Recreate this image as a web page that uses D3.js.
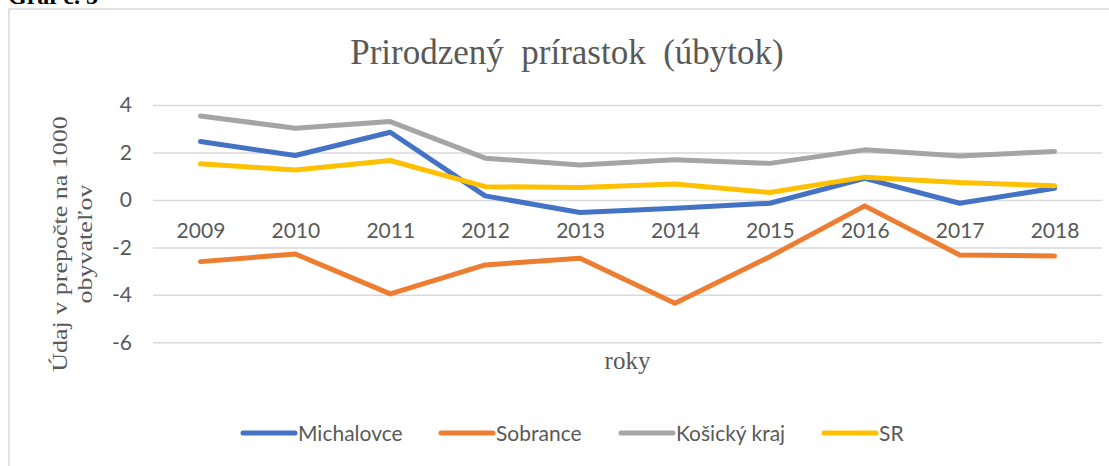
<!DOCTYPE html>
<html><head><meta charset="utf-8">
<script src="https://cdn.jsdelivr.net/npm/d3@7"></script>
<style>
html,body{margin:0;padding:0;background:#fff;}
svg{display:block;}
</style></head>
<body>
<svg id="chart" width="1109" height="466"></svg>
<script>
const years = ["2009","2010","2011","2012","2013","2014","2015","2016","2017","2018"];
const michalovce = [2.46, 1.87, 2.85, 0.17, -0.53, -0.35, -0.14, 0.91, -0.14, 0.49];
const sobrance = [-2.60, -2.28, -3.96, -2.74, -2.46, -4.35, -2.39, -0.25, -2.32, -2.36];
const kosickyKraj = [3.54, 3.02, 3.30, 1.76, 1.47, 1.69, 1.54, 2.11, 1.85, 2.04];
const sr = [1.52, 1.26, 1.66, 0.56, 0.52, 0.67, 0.31, 0.96, 0.73, 0.60];
const seriesNames = ["Michalovce", "Sobrance", "Košický kraj", "SR"];
const yTicks = [4, 2, 0, -2, -4, -6];
const titleText = "Prirodzený  prírastok  (úbytok)";
const yLabelLines = ["Údaj v prepočte na 1000", "obyvateľov"];
const xLabelText = "roky";
const captionText = "Graf č. 5";

const colors = ["#4472C4", "#ED7D31", "#A5A5A5", "#FFC000"];
const seriesData = [michalovce, sobrance, kosickyKraj, sr];

const svg = d3.select("#chart");

// caption (cropped at top, as in the source)
svg.append("text").attr("x", 8).attr("y", 4)
  .attr("font-family", "Liberation Serif").attr("font-weight", "bold")
  .attr("font-size", 24).attr("fill", "#000").text(captionText);

// chart frame
svg.append("rect").attr("x", 9).attr("y", 9).attr("width", 1130).attr("height", 480)
  .attr("fill", "#fff").attr("stroke", "#D9D9D9").attr("stroke-width", 1.5);

const plotL = 153, plotR = 1102;
const x = d3.scalePoint().domain(years).range([plotL, plotR]).padding(0.5);
const y = d3.scaleLinear().domain([-6, 4]).range([342.3, 105]);

// gridlines
const grid = svg.append("g")
  .call(d3.axisLeft(y).tickValues(yTicks).tickSize(-(plotR - plotL)).tickFormat(""))
  .attr("transform", `translate(${plotL},0)`);
grid.select(".domain").remove();
grid.selectAll("line").attr("stroke", "#D9D9D9").attr("stroke-width", 1.5);

// y tick labels
const yAx = svg.append("g").attr("transform", `translate(${plotL},0)`)
  .call(d3.axisLeft(y).tickValues(yTicks).tickSize(0).tickPadding(21).tickFormat(d => String(d)));
yAx.select(".domain").remove();
yAx.selectAll("text").attr("font-family", "Lato").attr("font-size", 21).attr("fill", "#595959");

// x tick labels at zero line
const xAx = svg.append("g").attr("transform", `translate(0,${y(0)})`)
  .call(d3.axisBottom(x).tickSize(0).tickPadding(23));
xAx.select(".domain").remove();
xAx.selectAll("text").attr("font-family", "Lato").attr("font-size", 21).attr("fill", "#595959");

// lines
const line = d3.line().x((d, i) => x(years[i])).y(d => y(d));
seriesData.forEach((s, k) => {
  svg.append("path").datum(s).attr("d", line)
    .attr("fill", "none").attr("stroke", colors[k]).attr("stroke-width", 5)
    .attr("stroke-linejoin", "round").attr("stroke-linecap", "round");
});

// title
svg.append("text").attr("x", 567).attr("y", 64).attr("text-anchor", "middle")
  .attr("font-family", "Liberation Serif").attr("font-size", 35).attr("fill", "#595959")
  .style("white-space", "pre").text(titleText);

// y-axis label (slightly narrowed glyphs, as in the source)
const yl = svg.append("text").attr("transform", "translate(60,244) rotate(-90) scale(1,0.82)")
  .attr("text-anchor", "middle").attr("font-family", "Liberation Serif")
  .attr("font-size", 26).attr("fill", "#595959");
yLabelLines.forEach((t, i) => {
  yl.append("tspan").attr("x", 0).attr("y", i * 30.5 + 9).text(t);
});

// x-axis title
svg.append("text").attr("x", (plotL + plotR) / 2).attr("y", 369).attr("text-anchor", "middle")
  .attr("font-family", "Liberation Serif").attr("font-size", 25).attr("fill", "#595959").text(xLabelText);

// legend
const legendX = [241, 439, 619, 822];
const lg = svg.append("g");
seriesNames.forEach((n, k) => {
  lg.append("line").attr("x1", legendX[k] + 2).attr("x2", legendX[k] + 54)
    .attr("y1", 433).attr("y2", 433).attr("stroke", colors[k]).attr("stroke-width", 5)
    .attr("stroke-linecap", "round");
  lg.append("text").attr("x", legendX[k] + 57).attr("y", 441)
    .attr("font-family", "Lato").attr("font-size", 21).attr("fill", "#595959").text(n);
});
</script>
</body></html>
